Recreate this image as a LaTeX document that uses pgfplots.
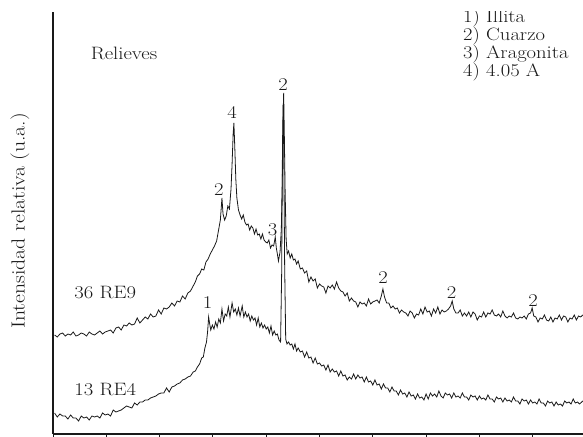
\documentclass[border=0pt]{standalone}
\usepackage{fontspec}
\setmainfont{Latin Modern Roman}[FakeStretch=1.15]
\usepackage{pgfplots}
\pgfplotsset{compat=1.18}
\tikzset{lab/.style={font=\fontsize{18}{18}\selectfont, text=black!90, inner sep=1bp}}

% upper pattern: 36 RE9 (2theta, relative intensity)
\pgfplotstableread{
x y
5.15 99
5.4 97
5.65 100
5.9 101
6.15 98
6.4 100
6.65 99
6.9 102
7.15 98
7.4 99
7.65 101
7.9 100
8.15 98
8.4 102
8.65 100
8.9 99
9.15 101
9.4 103
9.65 100
9.9 102
10.15 103
10.4 104
10.65 101
10.9 106
11.15 107
11.4 104
11.65 109
11.9 108
12.15 111
12.4 109
12.65 110
12.9 116
13.15 111
13.4 114
13.65 117
13.9 115
14.15 120
14.4 117
14.65 118
14.9 124
15.15 120
15.4 126
15.65 125
15.9 127
16.15 131
16.4 128
16.65 133
16.9 132
17.15 138
17.4 135
17.65 141
17.9 143
18.15 148
18.35 152
18.55 158
18.75 160
18.95 165
19.15 164
19.35 172
19.55 175
19.75 180
19.95 184
20.15 188
20.35 193
20.55 205
20.7 214
20.85 236
20.95 220
21.1 214
21.25 218
21.4 228
21.55 225
21.7 245
21.8 270
21.9 300
21.97 311
22.05 288
22.15 255
22.25 236
22.4 224
22.55 219
22.7 215
22.85 219
23.0 212
23.15 209
23.3 210
23.45 204
23.6 208
23.75 206
23.9 200
24.05 205
24.2 199
24.35 200
24.5 195
24.65 200
24.8 194
24.95 192
25.1 191
25.25 194
25.4 186
25.55 189
25.7 188
25.85 197
25.95 186
26.05 180
26.15 173
26.3 182
26.42 205
26.52 260
26.6 325
26.64 341
26.7 300
26.78 240
26.87 195
26.97 180
27.1 183
27.25 176
27.4 180
27.55 174
27.7 175
27.85 170
28.0 173
28.2 165
28.4 166
28.6 161
28.8 163
29.0 152
29.2 157
29.4 153
29.6 155
29.8 146
30.0 150
30.2 148
30.4 147
30.6 141
30.8 148
31.0 146
31.2 149
31.4 145
31.6 152
31.8 146
32.0 143
32.2 142
32.4 138
32.6 141
32.8 133
33.0 136
33.2 133
33.4 132
33.6 127
33.8 132
34.0 130
34.2 131
34.4 128
34.6 135
34.8 130
35.0 132
35.2 133
35.4 134
35.6 131
35.8 138
35.95 145
36.1 137
36.3 131
36.5 131
36.7 126
36.9 128
37.1 125
37.3 126
37.5 121
37.7 124
37.9 122
38.1 121
38.3 118
38.5 123
38.7 121
38.9 116
39.1 120
39.3 119
39.5 125
39.7 120
39.9 127
40.1 122
40.3 123
40.5 118
40.7 125
40.9 121
41.1 127
41.3 120
41.5 124
41.7 122
41.9 123
42.1 125
42.3 128
42.45 133
42.6 125
42.8 121
43.0 121
43.2 124
43.4 118
43.6 121
43.8 118
44.0 122
44.2 117
44.4 122
44.6 120
44.8 114
45.0 118
45.2 117
45.4 122
45.6 117
45.8 121
46.0 120
46.2 124
46.4 119
46.6 118
46.8 120
47.0 117
47.2 123
47.4 118
47.6 116
47.8 118
48.0 117
48.2 121
48.4 116
48.6 115
48.8 117
49.0 116
49.2 118
49.4 115
49.6 120
49.8 121
49.95 126
50.1 118
50.3 117
50.5 112
50.7 116
50.9 115
51.1 119
51.3 114
51.5 113
51.7 117
51.9 112
52.1 116
52.3 115
52.5 119
52.7 114
52.9 118
53.1 117
53.3 112
53.5 116
53.7 115
53.9 119
54.1 114
54.3 118
54.5 117
54.7 119
}\reNine

% lower pattern: 13 RE4
\pgfplotstableread{
x y
5.15 21
5.4 17
5.65 20
5.9 18
6.15 18
6.4 15
6.65 19
6.9 16
7.15 16
7.4 13
7.65 18
7.9 16
8.15 17
8.4 14
8.65 18
8.9 17
9.15 18
9.4 16
9.65 21
9.9 19
10.15 20
10.4 18
10.65 24
10.9 22
11.15 23
11.4 24
11.65 26
11.9 28
12.15 27
12.4 26
12.65 31
12.9 29
13.15 32
13.4 32
13.65 34
13.9 34
14.15 36
14.4 37
14.65 38
14.9 40
15.15 41
15.4 41
15.65 46
15.9 42
16.15 47
16.4 48
16.65 50
16.9 51
17.15 54
17.4 55
17.65 57
17.9 58
18.15 62
18.35 63
18.55 67
18.75 70
18.95 76
19.1 77
19.25 86
19.4 92
19.5 102
19.6 117
19.7 110
19.8 104
19.95 109
20.1 105
20.25 112
20.4 107
20.55 115
20.7 111
20.85 125
21.0 113
21.15 120
21.3 118
21.45 127
21.6 117
21.8 131
21.95 122
22.1 125
22.25 119
22.4 126
22.55 118
22.75 128
22.9 117
23.05 122
23.2 117
23.35 120
23.5 113
23.65 118
23.8 114
23.95 116
24.1 109
24.25 116
24.4 107
24.55 111
24.7 106
24.85 109
25.0 105
25.15 107
25.3 101
25.45 108
25.6 99
25.75 103
25.9 99
26.05 100
26.2 94
26.35 92
26.45 160
26.53 290
26.59 329
26.65 280
26.73 170
26.83 95
26.95 90
27.1 92
27.25 89
27.4 90
27.55 85
27.7 90
27.85 83
28.0 86
28.2 82
28.4 83
28.6 77
28.8 82
29.0 76
29.2 77
29.4 71
29.6 76
29.8 70
30.0 71
30.2 68
30.4 69
30.6 64
30.8 69
31.0 62
31.2 65
31.4 62
31.6 63
31.8 58
32.0 63
32.2 58
32.4 59
32.6 54
32.8 57
33.0 55
33.2 60
33.4 55
33.6 59
33.8 56
34.0 57
34.2 52
34.4 57
34.6 52
34.8 53
35.0 49
35.2 54
35.4 49
35.6 50
35.8 45
36.0 50
36.2 46
36.4 46
36.6 42
36.8 47
37.0 43
37.2 43
37.4 39
37.6 44
37.8 40
38.0 41
38.2 37
38.4 42
38.6 38
38.8 39
39.0 35
39.2 40
39.4 36
39.6 37
39.8 34
40.0 40
40.2 35
40.4 41
40.6 38
40.8 40
41.0 37
41.2 43
41.4 38
41.6 36
41.8 41
42.0 39
42.2 40
42.4 36
42.6 41
42.8 37
43.0 38
43.2 36
43.4 41
43.6 37
43.8 37
44.0 34
44.2 39
44.4 37
44.6 38
44.8 34
45.0 38
45.2 35
45.4 36
45.6 34
45.8 39
46.0 35
46.2 35
46.4 32
46.6 37
46.8 35
47.0 36
47.2 32
47.4 36
47.6 33
47.8 34
48.0 32
48.2 37
48.4 33
48.6 33
48.8 30
49.0 35
49.2 33
49.4 34
49.6 30
49.8 34
50.0 31
50.2 32
50.4 30
50.6 35
50.8 31
51.0 31
51.2 28
51.4 33
51.6 31
51.8 32
52.0 28
52.2 32
52.4 29
52.6 30
52.8 28
53.0 33
53.2 31
53.4 32
53.6 30
53.8 35
54.0 31
54.2 32
54.4 30
54.7 33
}\reFour

\begin{document}
\begin{tikzpicture}
\begin{axis}[
    scale only axis,
    width=530bp, height=422bp,
    xmin=5, xmax=54.72, ymin=0, ymax=422,
    axis x line*=bottom, axis y line*=left,
    axis line style={line width=1.3bp, black!90},
    xtick={5,10,...,50}, xticklabels={},
    ytick=\empty,
    tick align=outside, major tick length=3.5bp,
    every tick/.style={black!90, line width=0.9bp},
    ylabel={Intensidad relativa (u.a.)},
    ylabel style={at={(axis description cs:-0.0623,0.505)}, anchor=center,
        font=\fontsize{19}{19}\selectfont, text=black!90},
]
\addplot[black!90, line width=0.8bp] table[x=x, y=y] {\reNine};
\addplot[black!90, line width=0.8bp] table[x=x, y=y] {\reFour};
\coordinate (bl) at (rel axis cs:0,0);
\coordinate (tr) at (rel axis cs:1,1);
\node[lab] at (axis cs:11.66,381) {Relieves};
\node[lab] at (axis cs:9.9,141) {36 RE9};
\node[lab] at (axis cs:9.9,44) {13 RE4};
\node[lab, anchor=west] at (axis cs:43.37,416) {1) Illita};
\node[lab, anchor=west] at (axis cs:43.37,398) {2) Cuarzo};
\node[lab, anchor=west] at (axis cs:43.37,380) {3) Aragonita};
\node[lab, anchor=west] at (axis cs:43.37,362) {4) 4.05 A};
\node[lab] at (axis cs:21.8,321) {4};
\node[lab] at (axis cs:26.58,349) {2};
\node[lab] at (axis cs:20.57,244) {2};
\node[lab] at (axis cs:25.6,204) {3};
\node[lab] at (axis cs:19.5,131) {1};
\node[lab] at (axis cs:35.96,156) {2};
\node[lab] at (axis cs:42.4,141) {2};
\node[lab] at (axis cs:50.03,133) {2};
\end{axis}
\pgfresetboundingbox
\path ([shift={(-53bp,-3bp)}]bl) rectangle ([shift={(0bp,12bp)}]tr);
\end{tikzpicture}
\end{document}
